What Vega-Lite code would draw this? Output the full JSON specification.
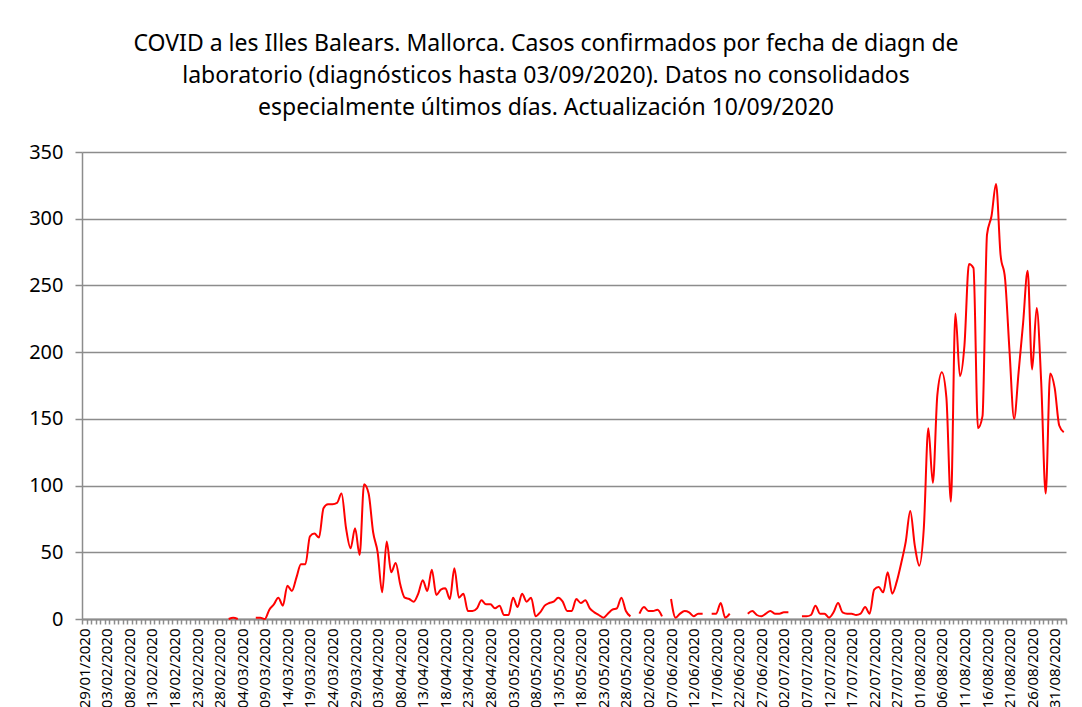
{
  "$schema": "https://vega.github.io/schema/vega-lite/v6.json",
  "autosize": {"type": "none"},
  "padding": {"left": 82, "top": 152, "right": 16, "bottom": 88},
  "width": 984,
  "height": 467,
  "background": "white",
  "title": {
    "text": ["COVID a les Illes Balears.  Mallorca. Casos confirmados por fecha de diagn de", "laboratorio (diagnósticos hasta 03/09/2020).  Datos no consolidados", "especialmente  últimos  días. Actualización  10/09/2020"],
    "anchor": "middle",
    "font": "Noto Sans",
    "fontSize": 23,
    "fontWeight": "normal",
    "lineHeight": 32,
    "color": "black",
    "offset": 22,
    "dx": -28
  },
  "config": {
    "view": {"stroke": null},
    "font": "Noto Sans"
  },
  "data": {"values": [
    {"fecha":"29/01/2020","casos":null},{"fecha":"30/01/2020","casos":null},{"fecha":"31/01/2020","casos":null},
    {"fecha":"01/02/2020","casos":null},{"fecha":"02/02/2020","casos":null},{"fecha":"03/02/2020","casos":null},{"fecha":"04/02/2020","casos":null},{"fecha":"05/02/2020","casos":null},{"fecha":"06/02/2020","casos":null},{"fecha":"07/02/2020","casos":null},{"fecha":"08/02/2020","casos":null},{"fecha":"09/02/2020","casos":null},{"fecha":"10/02/2020","casos":null},{"fecha":"11/02/2020","casos":null},{"fecha":"12/02/2020","casos":null},{"fecha":"13/02/2020","casos":null},{"fecha":"14/02/2020","casos":null},{"fecha":"15/02/2020","casos":null},{"fecha":"16/02/2020","casos":null},{"fecha":"17/02/2020","casos":null},{"fecha":"18/02/2020","casos":null},{"fecha":"19/02/2020","casos":null},{"fecha":"20/02/2020","casos":null},{"fecha":"21/02/2020","casos":null},{"fecha":"22/02/2020","casos":null},{"fecha":"23/02/2020","casos":null},{"fecha":"24/02/2020","casos":null},{"fecha":"25/02/2020","casos":null},{"fecha":"26/02/2020","casos":null},{"fecha":"27/02/2020","casos":null},{"fecha":"28/02/2020","casos":null},{"fecha":"29/02/2020","casos":null},
    {"fecha":"01/03/2020","casos":0},{"fecha":"02/03/2020","casos":1},{"fecha":"03/03/2020","casos":0},{"fecha":"04/03/2020","casos":null},{"fecha":"05/03/2020","casos":null},{"fecha":"06/03/2020","casos":null},{"fecha":"07/03/2020","casos":1},{"fecha":"08/03/2020","casos":1},{"fecha":"09/03/2020","casos":0},{"fecha":"10/03/2020","casos":7},{"fecha":"11/03/2020","casos":11},{"fecha":"12/03/2020","casos":16},{"fecha":"13/03/2020","casos":10},{"fecha":"14/03/2020","casos":25},{"fecha":"15/03/2020","casos":21},{"fecha":"16/03/2020","casos":31},{"fecha":"17/03/2020","casos":41},{"fecha":"18/03/2020","casos":41},{"fecha":"19/03/2020","casos":62},{"fecha":"20/03/2020","casos":64},{"fecha":"21/03/2020","casos":61},{"fecha":"22/03/2020","casos":83},{"fecha":"23/03/2020","casos":86},{"fecha":"24/03/2020","casos":86},{"fecha":"25/03/2020","casos":87},{"fecha":"26/03/2020","casos":94},{"fecha":"27/03/2020","casos":68},{"fecha":"28/03/2020","casos":53},{"fecha":"29/03/2020","casos":68},{"fecha":"30/03/2020","casos":48},{"fecha":"31/03/2020","casos":101},
    {"fecha":"01/04/2020","casos":94},{"fecha":"02/04/2020","casos":65},{"fecha":"03/04/2020","casos":50},{"fecha":"04/04/2020","casos":20},{"fecha":"05/04/2020","casos":58},{"fecha":"06/04/2020","casos":35},{"fecha":"07/04/2020","casos":42},{"fecha":"08/04/2020","casos":26},{"fecha":"09/04/2020","casos":16},{"fecha":"10/04/2020","casos":15},{"fecha":"11/04/2020","casos":13},{"fecha":"12/04/2020","casos":19},{"fecha":"13/04/2020","casos":29},{"fecha":"14/04/2020","casos":21},{"fecha":"15/04/2020","casos":37},{"fecha":"16/04/2020","casos":18},{"fecha":"17/04/2020","casos":22},{"fecha":"18/04/2020","casos":23},{"fecha":"19/04/2020","casos":15},{"fecha":"20/04/2020","casos":38},{"fecha":"21/04/2020","casos":16},{"fecha":"22/04/2020","casos":19},{"fecha":"23/04/2020","casos":6},{"fecha":"24/04/2020","casos":6},{"fecha":"25/04/2020","casos":8},{"fecha":"26/04/2020","casos":14},{"fecha":"27/04/2020","casos":11},{"fecha":"28/04/2020","casos":11},{"fecha":"29/04/2020","casos":8},{"fecha":"30/04/2020","casos":10},
    {"fecha":"01/05/2020","casos":3},{"fecha":"02/05/2020","casos":3},{"fecha":"03/05/2020","casos":16},{"fecha":"04/05/2020","casos":9},{"fecha":"05/05/2020","casos":19},{"fecha":"06/05/2020","casos":13},{"fecha":"07/05/2020","casos":16},{"fecha":"08/05/2020","casos":2},{"fecha":"09/05/2020","casos":5},{"fecha":"10/05/2020","casos":10},{"fecha":"11/05/2020","casos":12},{"fecha":"12/05/2020","casos":13},{"fecha":"13/05/2020","casos":16},{"fecha":"14/05/2020","casos":13},{"fecha":"15/05/2020","casos":6},{"fecha":"16/05/2020","casos":6},{"fecha":"17/05/2020","casos":15},{"fecha":"18/05/2020","casos":12},{"fecha":"19/05/2020","casos":14},{"fecha":"20/05/2020","casos":8},{"fecha":"21/05/2020","casos":5},{"fecha":"22/05/2020","casos":3},{"fecha":"23/05/2020","casos":1},{"fecha":"24/05/2020","casos":4},{"fecha":"25/05/2020","casos":7},{"fecha":"26/05/2020","casos":8},{"fecha":"27/05/2020","casos":16},{"fecha":"28/05/2020","casos":6},{"fecha":"29/05/2020","casos":2},{"fecha":"30/05/2020","casos":null},{"fecha":"31/05/2020","casos":4},
    {"fecha":"01/06/2020","casos":9},{"fecha":"02/06/2020","casos":6},{"fecha":"03/06/2020","casos":6},{"fecha":"04/06/2020","casos":7},{"fecha":"05/06/2020","casos":2},{"fecha":"06/06/2020","casos":null},{"fecha":"07/06/2020","casos":15},{"fecha":"08/06/2020","casos":1},{"fecha":"09/06/2020","casos":4},{"fecha":"10/06/2020","casos":6},{"fecha":"11/06/2020","casos":5},{"fecha":"12/06/2020","casos":2},{"fecha":"13/06/2020","casos":4},{"fecha":"14/06/2020","casos":4},{"fecha":"15/06/2020","casos":null},{"fecha":"16/06/2020","casos":4},{"fecha":"17/06/2020","casos":4},{"fecha":"18/06/2020","casos":12},{"fecha":"19/06/2020","casos":1},{"fecha":"20/06/2020","casos":4},{"fecha":"21/06/2020","casos":null},{"fecha":"22/06/2020","casos":null},{"fecha":"23/06/2020","casos":null},{"fecha":"24/06/2020","casos":4},{"fecha":"25/06/2020","casos":6},{"fecha":"26/06/2020","casos":3},{"fecha":"27/06/2020","casos":2},{"fecha":"28/06/2020","casos":4},{"fecha":"29/06/2020","casos":6},{"fecha":"30/06/2020","casos":4},
    {"fecha":"01/07/2020","casos":4},{"fecha":"02/07/2020","casos":5},{"fecha":"03/07/2020","casos":5},{"fecha":"04/07/2020","casos":null},{"fecha":"05/07/2020","casos":null},{"fecha":"06/07/2020","casos":2},{"fecha":"07/07/2020","casos":2},{"fecha":"08/07/2020","casos":3},{"fecha":"09/07/2020","casos":10},{"fecha":"10/07/2020","casos":4},{"fecha":"11/07/2020","casos":4},{"fecha":"12/07/2020","casos":1},{"fecha":"13/07/2020","casos":5},{"fecha":"14/07/2020","casos":12},{"fecha":"15/07/2020","casos":5},{"fecha":"16/07/2020","casos":4},{"fecha":"17/07/2020","casos":4},{"fecha":"18/07/2020","casos":3},{"fecha":"19/07/2020","casos":4},{"fecha":"20/07/2020","casos":9},{"fecha":"21/07/2020","casos":4},{"fecha":"22/07/2020","casos":22},{"fecha":"23/07/2020","casos":24},{"fecha":"24/07/2020","casos":20},{"fecha":"25/07/2020","casos":35},{"fecha":"26/07/2020","casos":19},{"fecha":"27/07/2020","casos":28},{"fecha":"28/07/2020","casos":42},{"fecha":"29/07/2020","casos":58},{"fecha":"30/07/2020","casos":81},{"fecha":"31/07/2020","casos":55},
    {"fecha":"01/08/2020","casos":40},{"fecha":"02/08/2020","casos":68},{"fecha":"03/08/2020","casos":143},{"fecha":"04/08/2020","casos":102},{"fecha":"05/08/2020","casos":168},{"fecha":"06/08/2020","casos":185},{"fecha":"07/08/2020","casos":166},{"fecha":"08/08/2020","casos":88},{"fecha":"09/08/2020","casos":229},{"fecha":"10/08/2020","casos":182},{"fecha":"11/08/2020","casos":205},{"fecha":"12/08/2020","casos":266},{"fecha":"13/08/2020","casos":263},{"fecha":"14/08/2020","casos":143},{"fecha":"15/08/2020","casos":152},{"fecha":"16/08/2020","casos":288},{"fecha":"17/08/2020","casos":302},{"fecha":"18/08/2020","casos":326},{"fecha":"19/08/2020","casos":273},{"fecha":"20/08/2020","casos":255},{"fecha":"21/08/2020","casos":200},{"fecha":"22/08/2020","casos":150},{"fecha":"23/08/2020","casos":185},{"fecha":"24/08/2020","casos":222},{"fecha":"25/08/2020","casos":261},{"fecha":"26/08/2020","casos":187},{"fecha":"27/08/2020","casos":233},{"fecha":"28/08/2020","casos":178},{"fecha":"29/08/2020","casos":94},{"fecha":"30/08/2020","casos":184},{"fecha":"31/08/2020","casos":173},
    {"fecha":"01/09/2020","casos":145},{"fecha":"02/09/2020","casos":140}
  ]},
  "mark": {"type": "line", "color": "#FF0000", "strokeWidth": 2, "interpolate": "monotone"},
  "encoding": {
    "x": {
      "field": "fecha",
      "type": "ordinal",
      "sort": null,
      "scale": {"type": "band", "paddingInner": 0, "paddingOuter": 0},
      "axis": {
        "title": null,
        "labelAngle": 270,
        "labelFontSize": 15,
        "labelColor": "black",
        "labelOverlap": false,
        "labelBound": false,
        "labelPadding": 4,
        "tickBand": "extent",
        "tickSize": 5,
        "tickWidth": 1.5,
        "tickColor": "#8c8c8c",
        "domainColor": "#8c8c8c",
        "domainWidth": 2,
        "labelExpr": "indexof(['29/01/2020','03/02/2020','08/02/2020','13/02/2020','18/02/2020','23/02/2020','28/02/2020','04/03/2020','09/03/2020','14/03/2020','19/03/2020','24/03/2020','29/03/2020','03/04/2020','08/04/2020','13/04/2020','18/04/2020','23/04/2020','28/04/2020','03/05/2020','08/05/2020','13/05/2020','18/05/2020','23/05/2020','28/05/2020','02/06/2020','07/06/2020','12/06/2020','17/06/2020','22/06/2020','27/06/2020','02/07/2020','07/07/2020','12/07/2020','17/07/2020','22/07/2020','27/07/2020','01/08/2020','06/08/2020','11/08/2020','16/08/2020','21/08/2020','26/08/2020','31/08/2020'], datum.value) >= 0 ? datum.value : ''"
      }
    },
    "y": {
      "field": "casos",
      "type": "quantitative",
      "scale": {"domain": [0, 350], "nice": false},
      "axis": {
        "title": null,
        "values": [0, 50, 100, 150, 200, 250, 300, 350],
        "labelFontSize": 20,
        "labelColor": "black",
        "labelPadding": 12,
        "tickSize": 7,
        "tickColor": "#8c8c8c",
        "tickWidth": 1.5,
        "domainColor": "#8c8c8c",
        "domainWidth": 1.5,
        "grid": true,
        "gridColor": "#8c8c8c",
        "gridWidth": 1.5
      }
    }
  }
}
